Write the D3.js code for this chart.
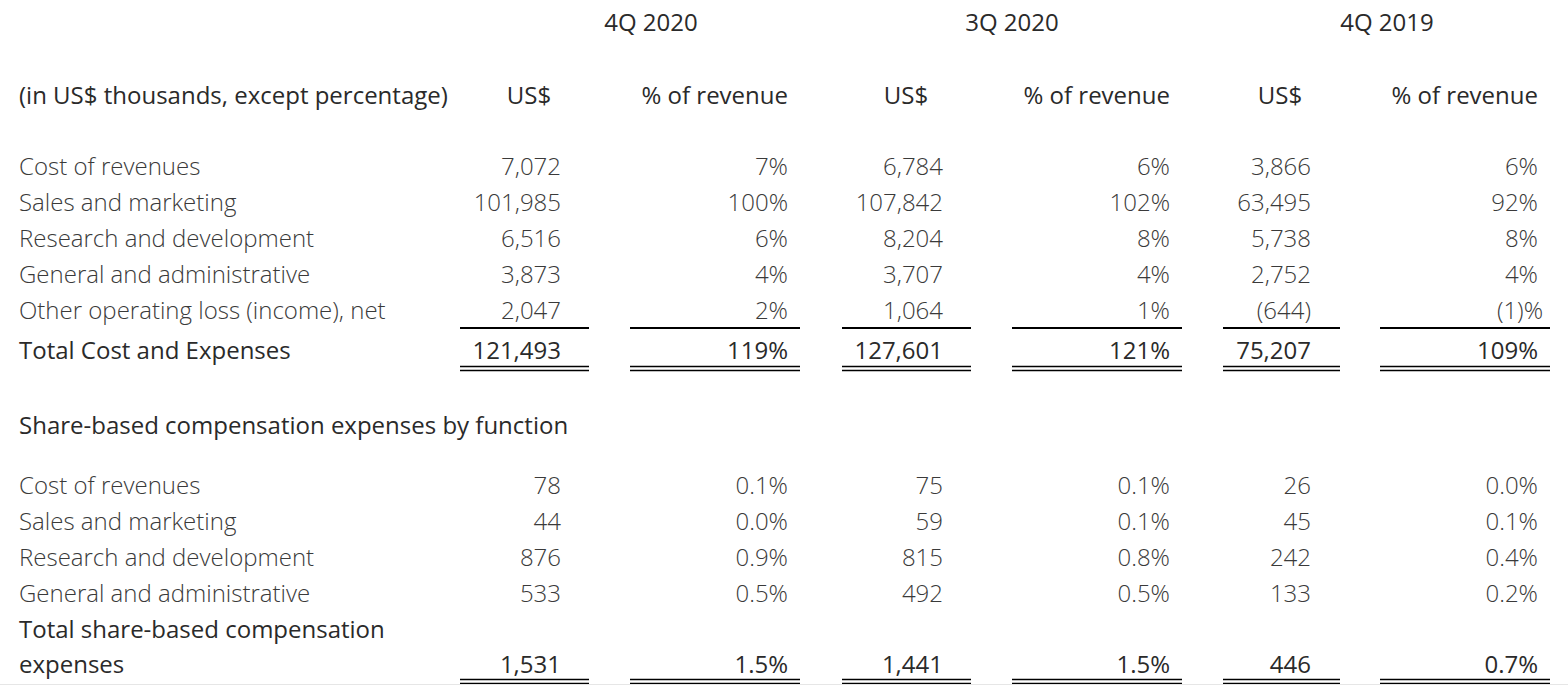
<!DOCTYPE html>
<html>
<head>
<meta charset="utf-8">
<script src="https://cdn.jsdelivr.net/npm/d3@7"></script>
<style>
  html, body { margin: 0; padding: 0; background: #fff; }
  svg { display: block; }
  text { font-family: "Open Sans", sans-serif; }
</style>
</head>
<body>
<svg id="chart" width="1568" height="685"></svg>
<script>
// ---------------- DATA ----------------
const periods = ["4Q 2020", "3Q 2020", "4Q 2019"];
const unitLabel = "(in US$ thousands, except percentage)";
const colHeaders = ["US$", "% of revenue"];

const expenseItems = ["Cost of revenues", "Sales and marketing", "Research and development",
  "General and administrative", "Other operating loss (income), net"];
const expenseTotalLabel = "Total Cost and Expenses";
const expUSD_4Q20 = [7072, 101985, 6516, 3873, 2047];
const expPct_4Q20 = [7, 100, 6, 4, 2];
const expUSD_3Q20 = [6784, 107842, 8204, 3707, 1064];
const expPct_3Q20 = [6, 102, 8, 4, 1];
const expUSD_4Q19 = [3866, 63495, 5738, 2752, -644];
const expPct_4Q19 = [6, 92, 8, 4, -1];
const expTotalUSD = [121493, 127601, 75207];
const expTotalPct = [119, 121, 109];

const sbcTitle = "Share-based compensation expenses by function";
const sbcItems = ["Cost of revenues", "Sales and marketing", "Research and development",
  "General and administrative"];
const sbcTotalLabel = ["Total share-based compensation", "expenses"];
const sbcUSD_4Q20 = [78, 44, 876, 533];
const sbcPct_4Q20 = [0.1, 0.0, 0.9, 0.5];
const sbcUSD_3Q20 = [75, 59, 815, 492];
const sbcPct_3Q20 = [0.1, 0.1, 0.8, 0.5];
const sbcUSD_4Q19 = [26, 45, 242, 133];
const sbcPct_4Q19 = [0.0, 0.1, 0.4, 0.2];
const sbcTotalUSD = [1531, 1441, 446];
const sbcTotalPct = [1.5, 1.5, 0.7];

// ---------------- LAYOUT ----------------
const svg = d3.select("#chart");
const W = 1568, H = 685;
const labelX = 19;
const fontSize = 24;

const usdRight = d3.scaleOrdinal().domain(periods).range([561, 943, 1311]);
const pctRight = d3.scaleOrdinal().domain(periods).range([788, 1170, 1538]);
const periodCenter = d3.scaleOrdinal().domain(periods).range([651, 1012, 1387]);
const usdHeadCenter = d3.scaleOrdinal().domain(periods).range([529, 906, 1280]);
const usdLine = d3.scaleOrdinal().domain(periods).range([[460, 589], [842, 971], [1223, 1340]]);
const pctLine = d3.scaleOrdinal().domain(periods).range([[630, 800], [1012, 1182], [1380, 1550]]);

// row positions (text vertical centres)
const yExp = d3.scaleLinear().domain([0, 1]).range([167, 203]);
const yExpTotal = 351;
const yHeadPeriod = 23, yHeadCol = 96, ySbcTitle = 426;
const ySbc = d3.scaleLinear().domain([0, 1]).range([486, 522]);
const ySbcTotal = [630, 665];

const fmtInt = d3.format(",");
const fmtUSD = v => v < 0 ? "(" + fmtInt(-v) + ")" : fmtInt(v);
const fmtPct0 = v => v < 0 ? "(" + (-v) + ")%" : v + "%";
const fmtPct1 = v => d3.format(".1f")(v) + "%";

const light = { weight: 300, color: "#3a3a3a" };
const reg = { weight: 400, color: "#2a2a2a" };

function txt(x, y, s, anchor, st) {
  return svg.append("text")
    .attr("x", x).attr("y", y)
    .attr("dy", "0.35em")
    .attr("text-anchor", anchor)
    .attr("font-size", fontSize)
    .attr("font-weight", st.weight)
    .attr("fill", st.color)
    .text(s);
}
// right-aligned numbers; a trailing ")%" hangs the % past the column edge
function num(x, y, s, st) {
  const hang = /\)%$/.test(s) ? 5 : 0;
  return txt(x + hang, y, s, "end", st);
}
function hline(x1, x2, y, w) {
  svg.append("line").attr("x1", x1).attr("x2", x2).attr("y1", y).attr("y2", y)
    .attr("stroke", "#000").attr("stroke-width", w);
}

// headers
periods.forEach(p => {
  txt(periodCenter(p), yHeadPeriod, p, "middle", reg);
  txt(usdHeadCenter(p), yHeadCol, colHeaders[0], "middle", reg);
  txt(pctRight(p), yHeadCol, colHeaders[1], "end", reg);
});
txt(labelX, yHeadCol, unitLabel, "start", reg);

// expenses section
const expUSD = [expUSD_4Q20, expUSD_3Q20, expUSD_4Q19];
const expPct = [expPct_4Q20, expPct_3Q20, expPct_4Q19];
expenseItems.forEach((it, i) => txt(labelX, yExp(i), it, "start", light));
periods.forEach((p, j) => {
  expUSD[j].forEach((v, i) => num(usdRight(p), yExp(i), fmtUSD(v), light));
  expPct[j].forEach((v, i) => num(pctRight(p), yExp(i), fmtPct0(v), light));
  num(usdRight(p), yExpTotal, fmtUSD(expTotalUSD[j]), reg);
  num(pctRight(p), yExpTotal, fmtPct0(expTotalPct[j]), reg);
  const ySingle = 328, yD1 = 366.5, yD2 = 370.5;
  [usdLine(p), pctLine(p)].forEach(([a, b]) => {
    hline(a, b, ySingle, 2);
    hline(a, b, yD1, 1.3);
    hline(a, b, yD2, 1.3);
  });
});
txt(labelX, yExpTotal, expenseTotalLabel, "start", reg);

// SBC section
txt(labelX, ySbcTitle, sbcTitle, "start", reg);
const sbcUSD = [sbcUSD_4Q20, sbcUSD_3Q20, sbcUSD_4Q19];
const sbcPct = [sbcPct_4Q20, sbcPct_3Q20, sbcPct_4Q19];
sbcItems.forEach((it, i) => txt(labelX, ySbc(i), it, "start", light));
sbcTotalLabel.forEach((s, k) => txt(labelX, ySbcTotal[k], s, "start", reg));
periods.forEach((p, j) => {
  sbcUSD[j].forEach((v, i) => num(usdRight(p), ySbc(i), fmtUSD(v), light));
  sbcPct[j].forEach((v, i) => num(pctRight(p), ySbc(i), fmtPct1(v), light));
  num(usdRight(p), ySbcTotal[1], fmtUSD(sbcTotalUSD[j]), reg);
  num(pctRight(p), ySbcTotal[1], fmtPct1(sbcTotalPct[j]), reg);
  [usdLine(p), pctLine(p)].forEach(([a, b]) => {
    hline(a, b, 679.5, 1.3);
    hline(a, b, 683.5, 1.3);
  });
});

// faint bottom rule
svg.append("line").attr("x1", 0).attr("x2", W).attr("y1", 684.5).attr("y2", 684.5)
  .attr("stroke", "#e6e6e6").attr("stroke-width", 1);
</script>
</body>
</html>
